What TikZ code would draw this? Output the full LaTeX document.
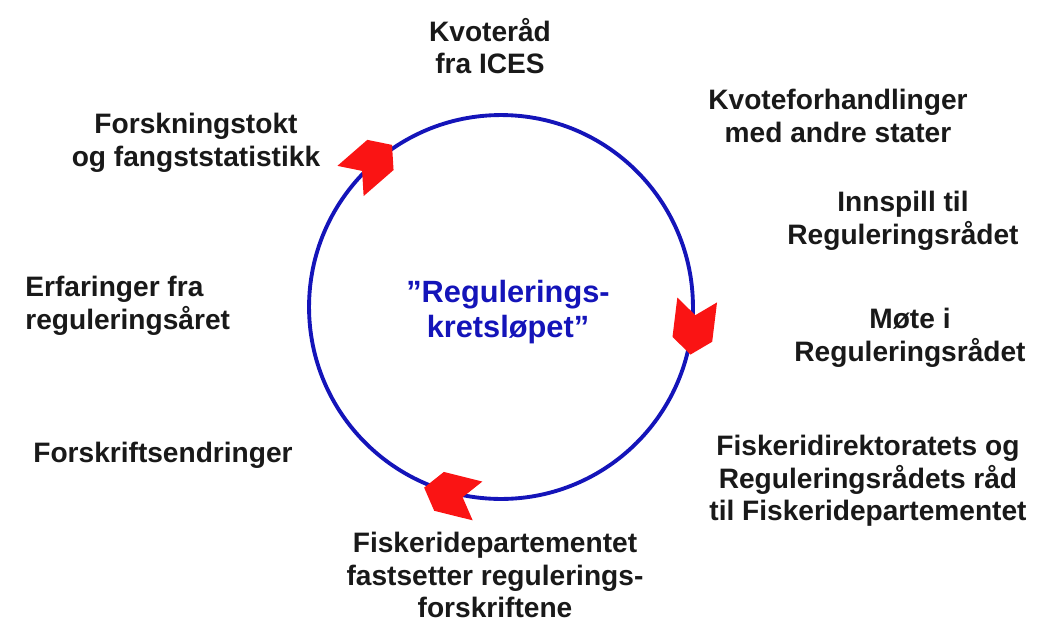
\documentclass[tikz,border=0pt]{standalone}
\usepackage{fontspec}
\setmainfont{Liberation Sans}
\usepackage{tikz}
\usetikzlibrary{shapes.symbols}
\usetikzlibrary{positioning}
\definecolor{ringblue}{RGB}{20,20,185}
\definecolor{headred}{RGB}{250,20,20}
\definecolor{inkgray}{RGB}{25,25,25}

\begin{document}
\begin{tikzpicture}[x=0.02cm,y=-0.02cm,
	step node/.style={align=center,text=inkgray,inner sep=0pt,
		font=\bfseries\fontsize{16}{18.6}\selectfont},
	mid node/.style={align=center,text=ringblue,inner sep=0pt,
		font=\bfseries\fontsize{17.5}{20}\selectfont},
	turn head/.style={signal,signal to=east,signal from=west,
		signal pointer angle=105,fill=headred,draw=none,inner sep=0pt,
		minimum width=1.1cm,minimum height=0.8cm}]
	
	\useasboundingbox (0,0) rectangle (1039,623);
	
	% the ring
	\node[circle,draw=ringblue,line width=2.2pt,minimum size=7.68cm,inner sep=0pt] (ring) at (501,307) {};
	\node[mid node] (title) at (508,312) {”Regulerings-\\kretsløpet”};
	
	% heads on the ring, clockwise
	\node[turn head,rotate=41] (h1) at (ring.132) {};
	\node[turn head,rotate=-97] (h2) at (ring.-6) {};
	\node[turn head,rotate=166] (h3) at (ring.-105) {};
	
	% the steps
	\node[step node] (ices) at (490,46) {Kvoteråd\\fra ICES};
	\node[step node] (quota) at (838,116) {Kvoteforhandlinger\\med andre stater};
	\node[step node] (input) at (903,221) {Innspill til\\Reguleringsrådet};
	\node[step node] (meet) at (910,338) {Møte i\\Reguleringsrådet};
	\node[step node] (advice) at (868,481) {Fiskeridirektoratets og\\Reguleringsrådets råd\\til Fiskeridepartementet};
	\node[step node] (decide) at (495,575) {Fiskeridepartementet\\fastsetter regulerings-\\forskriftene};
	\node[step node] (change) at (163,455) {Forskriftsendringer};
	\node[step node,align=left,anchor=west] (year) at (25,306) {Erfaringer fra\\reguleringsåret};
	\node[step node] (survey) at (196,143) {Forskningstokt\\og fangststatistikk};
\end{tikzpicture}
\end{document}
